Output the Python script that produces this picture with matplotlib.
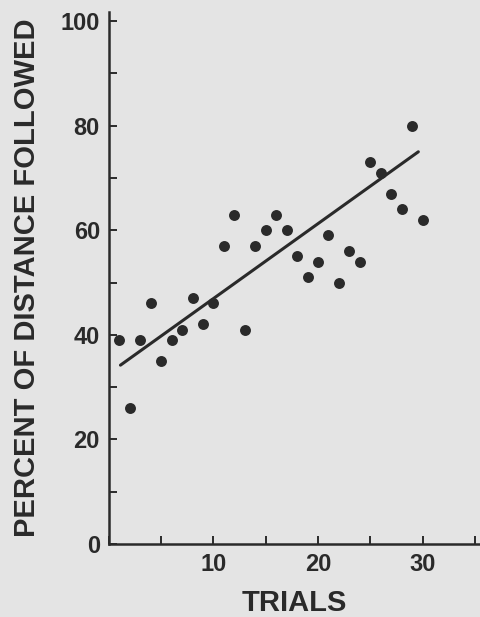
import matplotlib
matplotlib.use("Agg")
import matplotlib.pyplot as plt
from matplotlib.ticker import MultipleLocator

# Data
trials = list(range(1, 31))
percent_followed = [39, 26, 39, 46, 35, 39, 41, 47, 42, 46,
                    57, 63, 41, 57, 60, 63, 60, 55, 51, 54,
                    59, 50, 56, 54, 73, 71, 67, 64, 80, 62]
# Drawn trend line (endpoints)
fit_x = [1.1, 29.6]
fit_y = [34.2, 75.0]

x_ticks = [10, 20, 30]
y_ticks = [0, 20, 40, 60, 80, 100]

bg = "#e4e4e4"
ink = "#2a2a2a"

plt.rcParams['font.family'] = ['Liberation Sans', 'DejaVu Sans']
plt.rcParams['font.weight'] = 'bold'

fig = plt.figure(figsize=(4.8, 6.17), dpi=100, facecolor=bg)
ax = fig.add_axes([0.227, 0.1183, 0.773, 0.862])
ax.set_facecolor(bg)

ax.scatter(trials, percent_followed, s=62, color=ink, zorder=3, linewidths=0)
ax.plot(fit_x, fit_y, color=ink, lw=2.2, solid_capstyle='round', zorder=2)

ax.set_xlim(0, 35.5)
ax.set_ylim(0, 101.7)

ax.spines['top'].set_visible(False)
ax.spines['right'].set_visible(False)
for s in ['left', 'bottom']:
    ax.spines[s].set_color(ink)
    ax.spines[s].set_linewidth(1.8)

ax.xaxis.set_minor_locator(MultipleLocator(5))
ax.yaxis.set_minor_locator(MultipleLocator(10))
ax.set_xticks(x_ticks)
ax.set_yticks(y_ticks)

ax.tick_params(which='both', direction='in', length=6, width=1.4, color=ink)
ax.tick_params(axis='both', which='major', labelsize=17, labelcolor=ink, pad=6.5)

for lab in ax.get_xticklabels() + ax.get_yticklabels():
    lab.set_fontweight('bold')

ax.set_xlabel("TRIALS", fontsize=21, fontweight='bold', color=ink, labelpad=9)
ax.set_ylabel("PERCENT OF DISTANCE FOLLOWED", fontsize=21, fontweight='bold',
              color=ink, labelpad=14)

fig.savefig("out.png", dpi=100, facecolor=bg)
